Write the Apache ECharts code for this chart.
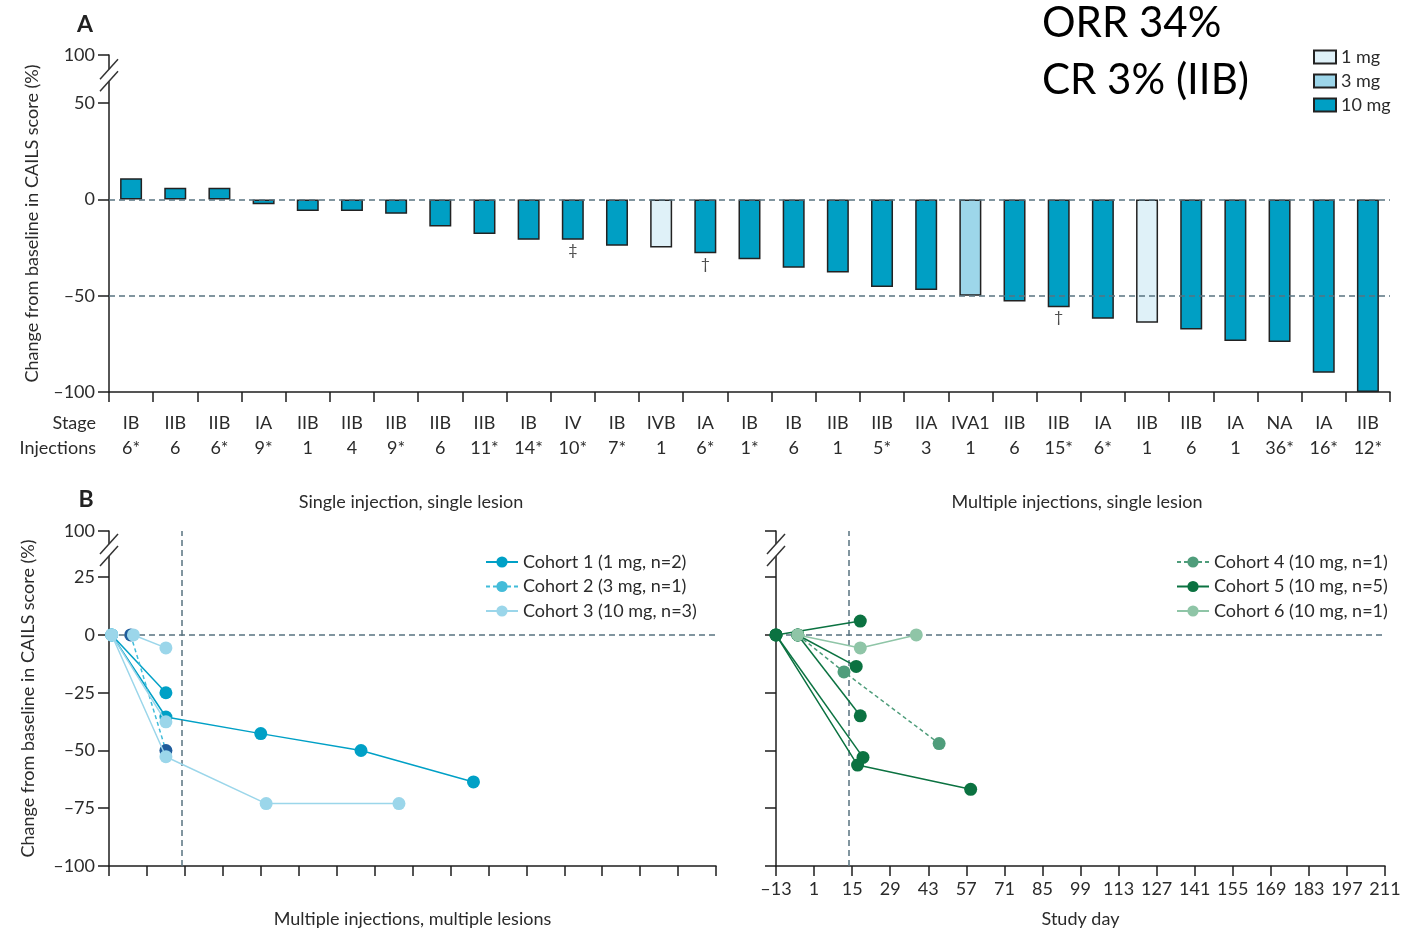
<!DOCTYPE html>
<html><head><meta charset="utf-8">
<script src="https://cdn.jsdelivr.net/npm/echarts@6/dist/echarts.min.js"></script>
<style>html,body{margin:0;padding:0;background:#fff}#c{width:1409px;height:931px}</style>
</head><body><div id="c"></div>
<script>
// ---------- Panel A data ----------
const stages = ['IB','IIB','IIB','IA','IIB','IIB','IIB','IIB','IIB','IB','IV','IB','IVB','IA','IB','IB','IIB','IIB','IIA','IVA1','IIB','IIB','IA','IIB','IIB','IA','NA','IA','IIB'];
const injections = ['6*','6','6*','9*','1','4','9*','6','11*','14*','10*','7*','1','6*','1*','6','1','5*','3','1','6','15*','6*','1','6','1','36*','16*','12*'];
const changeA = [11,6,6,-2.5,-6,-6,-7.5,-14,-18,-21,-21,-24,-25,-28,-31,-35.5,-38,-45.5,-47,-50,-53,-56,-62,-64,-67.5,-73.5,-74,-90,-100];
const doses = [10,10,10,10,10,10,10,10,10,10,10,10,1,10,10,10,10,10,10,3,10,10,10,1,10,10,10,10,10];
const markers = ['','','','','','','','','','','\u2021','','','\u2020','','','','','','','','\u2020','','','','','','',''];
const doseKeys = [1,3,10];
const doseNames = ['1 mg','3 mg','10 mg'];
const yTicksA = [-100,-50,0,50,75];          // 75 is drawn as "100" above the axis break

// ---------- Panel B data ([study day, change %]) ----------
const dayTicks = [-13,1,15,29,43,57,71,85,99,113,127,141,155,169,183,197,211];
const yTicksB = [-100,-75,-50,-25,0,25,45];  // 45 is drawn as "100" above the axis break
const cohort1 = [
  [[-12,0],[8,-25]],
  [[-12,0],[8,-35.5],[43,-42.7],[80,-50],[121.5,-63.6]]
];
const cohort2 = [
  [[-5,0],[8,-50]]
];
const cohort3 = [
  [[-4,0],[8,-5.6]],
  [[-12,0],[8,-37.6]],
  [[-12,0],[8,-52.7],[45,-73],[94,-73]]
];
const cohort4 = [
  [[-5,0],[12,-16],[47,-47]]
];
const cohort5 = [
  [[-13,0],[18,6]],
  [[-5,0],[16.5,-13.6]],
  [[-5,0],[18,-35]],
  [[-13,0],[19,-53]],
  [[-13,0],[17,-56.3],[58.6,-66.8]]
];
const cohort6 = [
  [[-5,0],[18,-5.6],[38.6,0]]
];
const cohortNames = ['Cohort 1 (1 mg, n=2)','Cohort 2 (3 mg, n=1)','Cohort 3 (10 mg, n=3)',
                     'Cohort 4 (10 mg, n=1)','Cohort 5 (10 mg, n=5)','Cohort 6 (10 mg, n=1)'];
const refDay = 13.7;

// ---------- styling ----------
const FONT = 'Lato';
const TXT = '#2b2b2b';
const AX = '#1e1e1e';
const doseColors = {1:'#dff1f8', 3:'#9dd6ea', 10:'#009fc4'};
const dashStyle = {type:[6,4], color:'#587380', width:1.5};
const cohortStyle = [
  {line:'#00a0c6', mark:'#00a0c6', type:'solid'},
  {line:'#40bcd9', mark:'#1f5c9c', type:[4,3]},
  {line:'#9bd6ea', mark:'#9bd6ea', type:'solid'},
  {line:'#4f9d7b', mark:'#4f9d7b', type:[4,3]},
  {line:'#0b7241', mark:'#0b7241', type:'solid'},
  {line:'#8fc5a7', mark:'#8fc5a7', type:'solid'}
];
const fmt = v => (v < 0 ? '\u2013' + (-v) : String(v));

const GA = {left:109, top:55, width:1281, height:337};
const GB1 = {left:109, top:531, width:607, height:335};
const GB2 = {left:776, top:531, width:609, height:335};

const chart = echarts.init(document.getElementById('c'));

const barSeries = doseKeys.map((d, k) => ({
  name: doseNames[k], type:'bar', stack:'dose', xAxisIndex:0, yAxisIndex:0, barWidth:22,
  data: changeA.map((v, i) => doses[i] === d ? v : '-'),
  itemStyle:{color:doseColors[d], borderColor:'#222', borderWidth:1.5},
  label:{show:true, position:'bottom', distance:2, formatter:p => markers[p.dataIndex] || '',
         fontSize:16, color:'#4a4a4a', fontFamily:FONT},
  markLine: k === 2 ? {silent:true, symbol:'none', label:{show:false}, lineStyle:dashStyle,
                       data:[{yAxis:0},{yAxis:-50}]} : undefined
}));

const groups = [cohort1, cohort2, cohort3, cohort4, cohort5, cohort6];
const lineSeries = [];
groups.forEach((grp, ci) => {
  const axisIdx = ci < 3 ? 1 : 2;
  const st = cohortStyle[ci];
  grp.forEach((pts, pi) => {
    const s = {
      name: cohortNames[ci], type:'line', xAxisIndex:axisIdx, yAxisIndex:axisIdx,
      data: pts, symbol:'circle', symbolSize:13, showSymbol:true,
      lineStyle:{color:st.line, width:1.5, type:st.type},
      itemStyle:{color:st.mark}, z: 3 + ci
    };
    if (pi === 0 && (ci === 0 || ci === 3)) {
      s.markLine = {silent:true, symbol:'none', label:{show:false}, lineStyle:dashStyle,
                    data:[{yAxis:0},{xAxis:refDay}]};
    }
    lineSeries.push(s);
  });
});

const legendText = {fontSize:18, color:TXT, fontFamily:FONT};

function valueY(gridIndex, ticks, topVal, showLabels, nameGap) {
  return {
    gridIndex, type:'value', min:-100, max:topVal,
    axisLine:{show:true, onZero:false, lineStyle:{color:AX, width:1.5}},
    axisTick:{show:true, length:11, customValues:ticks, lineStyle:{color:AX, width:1.5}},
    axisLabel:{show:showLabels, customValues:ticks, margin:14,
               formatter:v => (v === topVal ? '100' : fmt(v)),
               fontSize:18, color:TXT, fontFamily:FONT},
    splitLine:{show:false},
    name: nameGap ? 'Change from baseline in CAILS score (%)' : '',
    nameLocation:'middle', nameGap:nameGap || 0, nameRotate:90,
    nameTextStyle:{fontSize:18, color:TXT, fontFamily:FONT}
  };
}
function dayX(gridIndex, showLabels, name) {
  return {
    gridIndex, type:'value', min:-13, max:211,
    axisLine:{show:true, onZero:false, lineStyle:{color:AX, width:1.5}},
    axisTick:{show:true, length:10, customValues:dayTicks, lineStyle:{color:AX, width:1.5}},
    axisLabel:{show:showLabels, customValues:dayTicks, margin:14, formatter:v => fmt(v),
               fontSize:18, color:TXT, fontFamily:FONT},
    splitLine:{show:false},
    name, nameLocation:'middle', nameGap:44,
    nameTextStyle:{fontSize:18, color:TXT, fontFamily:FONT}
  };
}

chart.setOption({
  animation:false,
  backgroundColor:'#fff',
  textStyle:{fontFamily:FONT},
  grid:[GA, GB1, GB2],
  legend:[
    {data:doseNames, orient:'vertical', left:1308, top:43, itemWidth:22, itemHeight:13, itemGap:6,
     icon:'rect', textStyle:legendText, selectedMode:false},
    {data:[cohortNames[0], {name:cohortNames[1], itemStyle:{color:'#44bcd9'}}, cohortNames[2]],
     orient:'vertical', left:480, top:548, itemWidth:32, itemHeight:14, itemGap:6.5,
     textStyle:legendText, selectedMode:false},
    {data:[cohortNames[3], cohortNames[4], cohortNames[5]],
     orient:'vertical', left:1171, top:548, itemWidth:32, itemHeight:14, itemGap:6.5,
     textStyle:legendText, selectedMode:false}
  ],
  xAxis:[
    {gridIndex:0, type:'category', data:stages, boundaryGap:true,
     axisLine:{show:true, onZero:false, lineStyle:{color:AX, width:1.5}},
     axisTick:{show:true, interval:0, length:10, lineStyle:{color:AX, width:1.5}},
     axisLabel:{interval:0, margin:19,
       formatter:(v, i) => '{s|' + stages[i] + '}\n{n|' + injections[i] + '}',
       rich:{s:{fontSize:18, lineHeight:25, color:TXT, fontFamily:FONT},
             n:{fontSize:18, lineHeight:25, color:TXT, fontFamily:FONT}}}},
    dayX(1, false, 'Multiple injections, multiple lesions'),
    dayX(2, true, 'Study day')
  ],
  yAxis:[
    valueY(0, yTicksA, 75, true, 68),
    valueY(1, yTicksB, 45, true, 72),
    valueY(2, yTicksB, 45, false, 0)
  ],
  series: barSeries.concat(lineSeries)
});

// ---------- texts and axis-break marks ----------
function breakMarks(x, yc) {
  return [
    {type:'rect', shape:{x:x-4, y:yc-6, width:8, height:12}, style:{fill:'#fff'}, z:200},
    {type:'line', shape:{x1:x-9, y1:yc-6+10, x2:x+9, y2:yc-6-10}, style:{stroke:'#333', lineWidth:1.5}, z:201},
    {type:'line', shape:{x1:x-9, y1:yc+6+10, x2:x+9, y2:yc+6-10}, style:{stroke:'#333', lineWidth:1.5}, z:201}
  ];
}
function txt(x, y, text, size, align, weight, color) {
  return {type:'text', x, y, z:210,
    style:{text, fontSize:size, fontFamily:FONT, fontWeight:weight || 'normal', fill:color || TXT,
           align:align, textAlign:align, verticalAlign:'middle', textVerticalAlign:'middle'}};
}
const yBrkA = chart.convertToPixel({yAxisIndex:0}, 64.5);
const yBrkB1 = chart.convertToPixel({yAxisIndex:1}, 36.8);
const yBrkB2 = chart.convertToPixel({yAxisIndex:2}, 36.8);
chart.setOption({
  graphic: [].concat(
    breakMarks(GA.left, yBrkA),
    breakMarks(GB1.left, yBrkB1),
    breakMarks(GB2.left, yBrkB2),
    [
      txt(85, 25, 'A', 23, 'center', 'bold', '#222'),
      txt(86, 500, 'B', 23, 'center', 'bold', '#222'),
      txt(1042, 23, 'ORR 34%', 42, 'left', 'normal', '#000'),
      txt(1042, 80, 'CR 3% (IIB)', 42, 'left', 'normal', '#000'),
      txt(96, 423, 'Stage', 18, 'right'),
      txt(96, 448, 'Injections', 18, 'right'),
      txt(411, 502, 'Single injection, single lesion', 18, 'center'),
      txt(1077, 502, 'Multiple injections, single lesion', 18, 'center')
    ]
  )
});
</script></body></html>
